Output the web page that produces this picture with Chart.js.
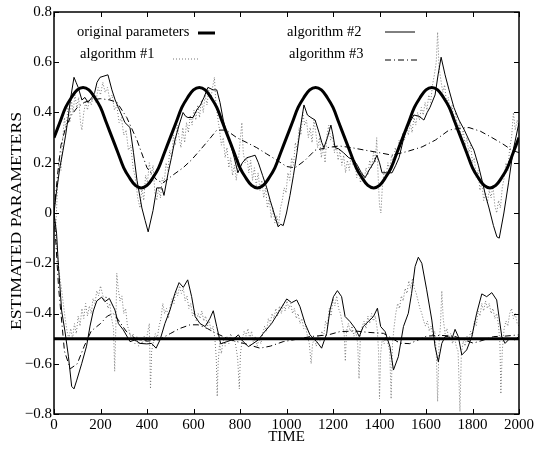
<!DOCTYPE html>
<html>
<head>
<meta charset="utf-8">
<script src="https://cdn.jsdelivr.net/npm/chart.js@4"></script>
<style>
  html, body { margin: 0; padding: 0; background: #fff; }
  canvas { display: block; }
</style>
</head>
<body>
<canvas id="chart" width="534" height="449"></canvas>
<script>
// tick labels
const xTickLabels = ['0', '200', '400', '600', '800', '1000', '1200', '1400', '1600', '1800', '2000'];
const yTickValues = [-0.8, -0.6, -0.4, -0.2, 0, 0.2, 0.4, 0.6, 0.8];
const yTickLabels = ['\u22120.8', '\u22120.6', '\u22120.4', '\u22120.2', '0', '0.2', '0.4', '0.6', '0.8'];
const legendLabels = ['original parameters', 'algorithm #1', 'algorithm #2', 'algorithm #3'];
const yTitle = 'ESTIMATED PARAMETERS';

// original parameters (thick line)
const origTimes = [0, 25, 50, 75, 100, 125, 150, 175, 200, 225, 250, 275, 300, 325, 350, 375, 400, 425, 450, 475,
  500, 525, 550, 575, 600, 625, 650, 675, 700, 725, 750, 775, 800, 825, 850, 875, 900, 925, 950, 975,
  1000, 1025, 1050, 1075, 1100, 1125, 1150, 1175, 1200, 1225, 1250, 1275, 1300, 1325, 1350, 1375, 1400, 1425, 1450, 1475,
  1500, 1525, 1550, 1575, 1600, 1625, 1650, 1675, 1700, 1725, 1750, 1775, 1800, 1825, 1850, 1875, 1900, 1925, 1950, 1975, 2000];
const origUpper = [0.30, 0.36, 0.42, 0.46, 0.49, 0.50, 0.49, 0.46, 0.42, 0.36, 0.30, 0.24, 0.18, 0.14, 0.11, 0.10, 0.11, 0.14, 0.18, 0.24,
  0.30, 0.36, 0.42, 0.46, 0.49, 0.50, 0.49, 0.46, 0.42, 0.36, 0.30, 0.24, 0.18, 0.14, 0.11, 0.10, 0.11, 0.14, 0.18, 0.24,
  0.30, 0.36, 0.42, 0.46, 0.49, 0.50, 0.49, 0.46, 0.42, 0.36, 0.30, 0.24, 0.18, 0.14, 0.11, 0.10, 0.11, 0.14, 0.18, 0.24,
  0.30, 0.36, 0.42, 0.46, 0.49, 0.50, 0.49, 0.46, 0.42, 0.36, 0.30, 0.24, 0.18, 0.14, 0.11, 0.10, 0.11, 0.14, 0.18, 0.24, 0.30];
const origLower = [[0, -0.5], [2000, -0.5]];

// algorithm #1 (dotted)
const alg1Upper = [[0, 0.0], [8, -0.05], [15, 0.1], [22, 0.22], [30, 0.17], [38, 0.3], [45, 0.38], [52, 0.33], [60, 0.42], [68, 0.36],
  [75, 0.45], [82, 0.40], [90, 0.47], [98, 0.42], [106, 0.46], [114, 0.36], [120, 0.33], [128, 0.40], [136, 0.44], [144, 0.41],
  [152, 0.45], [160, 0.43], [170, 0.47], [180, 0.44], [190, 0.50], [200, 0.47], [210, 0.52], [220, 0.48], [230, 0.50], [240, 0.45],
  [250, 0.47], [260, 0.41], [270, 0.43], [280, 0.36], [290, 0.38], [300, 0.31], [310, 0.33], [320, 0.25], [330, 0.27], [340, 0.18],
  [350, 0.14], [360, 0.06], [370, 0.02], [378, 0.10], [386, 0.05], [394, 0.15], [402, 0.12], [410, 0.20], [418, 0.15], [426, 0.19],
  [434, 0.08], [442, 0.05], [450, 0.10], [458, 0.06], [466, 0.14], [474, 0.12], [482, 0.20], [490, 0.17], [498, 0.25], [506, 0.22],
  [514, 0.31], [522, 0.27], [530, 0.35], [538, 0.30], [546, 0.26], [554, 0.34], [562, 0.28], [570, 0.36], [578, 0.32], [586, 0.39],
  [594, 0.35], [602, 0.41], [610, 0.37], [618, 0.43], [626, 0.38], [634, 0.45], [642, 0.40], [650, 0.47], [658, 0.43], [666, 0.49],
  [674, 0.45], [682, 0.50], [690, 0.54], [696, 0.44], [704, 0.38], [712, 0.33], [720, 0.27], [728, 0.30], [736, 0.22], [744, 0.26],
  [752, 0.18], [760, 0.22], [768, 0.15], [776, 0.19], [784, 0.13], [792, 0.20], [800, 0.28], [808, 0.36], [814, 0.24], [822, 0.20],
  [830, 0.22], [838, 0.16], [846, 0.21], [854, 0.13], [862, 0.18], [870, 0.11], [878, 0.16], [886, 0.09], [894, 0.13], [902, 0.06],
  [910, 0.10], [918, 0.02], [926, 0.06], [934, -0.02], [942, 0.02], [950, -0.04], [958, -0.01], [966, -0.05], [974, 0.02], [982, 0.05],
  [990, 0.10], [998, 0.08], [1006, 0.16], [1014, 0.13], [1022, 0.22], [1030, 0.19], [1038, 0.28], [1046, 0.25], [1054, 0.34], [1062, 0.31],
  [1070, 0.40], [1078, 0.35], [1086, 0.37], [1094, 0.30], [1102, 0.34], [1110, 0.28], [1118, 0.37], [1126, 0.32], [1134, 0.26], [1142, 0.30],
  [1150, 0.22], [1158, 0.27], [1166, 0.20], [1174, 0.31], [1182, 0.35], [1190, 0.29], [1198, 0.31], [1206, 0.24], [1214, 0.27], [1222, 0.21],
  [1230, 0.25], [1238, 0.19], [1246, 0.23], [1254, 0.16], [1262, 0.21], [1270, 0.17], [1278, 0.23], [1286, 0.19], [1294, 0.21], [1302, 0.14],
  [1310, 0.18], [1318, 0.12], [1326, 0.16], [1334, 0.13], [1342, 0.18], [1350, 0.15], [1358, 0.21], [1366, 0.18], [1374, 0.24], [1382, 0.20],
  [1388, 0.30], [1394, 0.15], [1400, 0.03], [1406, 0.0], [1412, 0.10], [1420, 0.17], [1428, 0.14], [1436, 0.20], [1444, 0.17], [1452, 0.23],
  [1460, 0.20], [1468, 0.26], [1476, 0.23], [1484, 0.29], [1492, 0.26], [1500, 0.32], [1508, 0.29], [1516, 0.35], [1524, 0.31], [1532, 0.36],
  [1540, 0.32], [1548, 0.38], [1556, 0.35], [1564, 0.40], [1572, 0.37], [1580, 0.42], [1588, 0.39], [1596, 0.44], [1604, 0.41], [1612, 0.47],
  [1620, 0.44], [1628, 0.51], [1636, 0.55], [1644, 0.60], [1650, 0.72], [1656, 0.58], [1664, 0.53], [1672, 0.48], [1680, 0.51], [1688, 0.44],
  [1696, 0.46], [1704, 0.40], [1712, 0.43], [1720, 0.37], [1728, 0.40], [1736, 0.33], [1744, 0.36], [1752, 0.30], [1760, 0.33], [1768, 0.27],
  [1776, 0.30], [1784, 0.24], [1792, 0.27], [1800, 0.20], [1808, 0.22], [1816, 0.14], [1824, 0.17], [1832, 0.09], [1840, 0.12], [1848, 0.05],
  [1856, 0.08], [1864, 0.04], [1872, 0.09], [1880, 0.06], [1888, 0.11], [1896, 0.03], [1904, 0.0], [1912, 0.05], [1920, 0.02], [1928, 0.10],
  [1936, 0.14], [1944, 0.20], [1952, 0.17], [1960, 0.26], [1968, 0.30], [1976, 0.40], [1984, 0.33], [1992, 0.37], [2000, 0.34]];
const alg1Lower = [[0, 0.0], [8, -0.08], [16, -0.18], [24, -0.25], [32, -0.30], [40, -0.36], [48, -0.42], [56, -0.47], [64, -0.50], [72, -0.46],
  [80, -0.50], [88, -0.44], [96, -0.48], [104, -0.41], [112, -0.45], [120, -0.38], [128, -0.42], [136, -0.36], [144, -0.41], [152, -0.37],
  [160, -0.40], [168, -0.34], [176, -0.36], [184, -0.31], [192, -0.33], [200, -0.29], [208, -0.32], [216, -0.35], [224, -0.33], [232, -0.38],
  [240, -0.36], [248, -0.42], [256, -0.46], [261, -0.63], [266, -0.45], [270, -0.24], [276, -0.30], [284, -0.35], [292, -0.33], [300, -0.40],
  [308, -0.38], [316, -0.45], [324, -0.47], [332, -0.50], [340, -0.48], [348, -0.52], [356, -0.49], [364, -0.53], [372, -0.50], [380, -0.52],
  [388, -0.49], [396, -0.51], [404, -0.47], [410, -0.44], [415, -0.70], [420, -0.55], [428, -0.51], [436, -0.48], [444, -0.50], [452, -0.45],
  [460, -0.42], [468, -0.36], [476, -0.40], [484, -0.38], [492, -0.42], [500, -0.37], [508, -0.34], [516, -0.36], [524, -0.31], [532, -0.33],
  [540, -0.29], [548, -0.32], [556, -0.30], [564, -0.35], [572, -0.33], [580, -0.38], [588, -0.36], [596, -0.41], [604, -0.39], [612, -0.43],
  [620, -0.40], [628, -0.42], [636, -0.39], [644, -0.43], [652, -0.41], [660, -0.45], [668, -0.43], [676, -0.47], [684, -0.45], [692, -0.50],
  [698, -0.58], [702, -0.73], [706, -0.60], [712, -0.52], [720, -0.56], [728, -0.50], [736, -0.53], [744, -0.49], [752, -0.52], [760, -0.48],
  [768, -0.51], [776, -0.50], [784, -0.54], [790, -0.58], [797, -0.70], [802, -0.56], [810, -0.50], [818, -0.47], [826, -0.49], [834, -0.46],
  [842, -0.50], [850, -0.47], [858, -0.52], [866, -0.49], [874, -0.53], [882, -0.50], [890, -0.52], [898, -0.48], [906, -0.45], [914, -0.47],
  [922, -0.42], [930, -0.44], [938, -0.40], [946, -0.42], [954, -0.38], [962, -0.41], [970, -0.37], [978, -0.40], [986, -0.36], [994, -0.39],
  [1002, -0.35], [1010, -0.38], [1018, -0.36], [1026, -0.40], [1034, -0.38], [1042, -0.42], [1050, -0.40], [1058, -0.44], [1066, -0.42], [1074, -0.46],
  [1082, -0.45], [1090, -0.49], [1098, -0.52], [1106, -0.60], [1112, -0.52], [1120, -0.50], [1128, -0.53], [1136, -0.49], [1144, -0.51], [1152, -0.47],
  [1160, -0.49], [1168, -0.43], [1176, -0.45], [1184, -0.38], [1192, -0.41], [1200, -0.34], [1208, -0.37], [1216, -0.33], [1224, -0.38], [1232, -0.40],
  [1240, -0.44], [1248, -0.48], [1253, -0.59], [1258, -0.47], [1266, -0.44], [1274, -0.47], [1282, -0.45], [1290, -0.49], [1298, -0.47], [1306, -0.52],
  [1312, -0.66], [1318, -0.48], [1326, -0.45], [1334, -0.43], [1342, -0.46], [1350, -0.41], [1358, -0.44], [1366, -0.40], [1374, -0.43], [1382, -0.41],
  [1390, -0.46], [1396, -0.55], [1400, -0.74], [1405, -0.56], [1412, -0.50], [1420, -0.52], [1428, -0.49], [1436, -0.52], [1444, -0.55], [1450, -0.74],
  [1456, -0.52], [1462, -0.46], [1470, -0.40], [1478, -0.36], [1486, -0.38], [1494, -0.33], [1502, -0.35], [1510, -0.30], [1518, -0.32], [1526, -0.27],
  [1534, -0.30], [1542, -0.26], [1550, -0.30], [1558, -0.32], [1566, -0.35], [1574, -0.38], [1582, -0.40], [1590, -0.43], [1598, -0.45], [1606, -0.43],
  [1614, -0.47], [1622, -0.45], [1630, -0.49], [1638, -0.47], [1644, -0.55], [1650, -0.75], [1656, -0.52], [1662, -0.45], [1668, -0.31], [1674, -0.42],
  [1682, -0.48], [1690, -0.46], [1698, -0.50], [1706, -0.48], [1714, -0.52], [1722, -0.49], [1730, -0.53], [1738, -0.55], [1746, -0.79], [1752, -0.56],
  [1760, -0.51], [1768, -0.53], [1776, -0.49], [1784, -0.51], [1792, -0.47], [1800, -0.49], [1808, -0.43], [1816, -0.45], [1824, -0.39], [1832, -0.41],
  [1840, -0.36], [1848, -0.39], [1856, -0.35], [1864, -0.38], [1872, -0.36], [1880, -0.40], [1888, -0.38], [1896, -0.42], [1904, -0.40], [1912, -0.45],
  [1918, -0.52], [1922, -0.72], [1928, -0.55], [1936, -0.46], [1944, -0.43], [1952, -0.45], [1960, -0.40], [1968, -0.38], [1976, -0.42], [1984, -0.40],
  [1992, -0.44], [2000, -0.45]];

// algorithm #2 (thin solid)
const alg2Upper = [[0, 0.0], [10, 0.08], [25, 0.18], [39, 0.25], [50, 0.31], [61, 0.38], [72, 0.46], [86, 0.54], [95, 0.52], [104, 0.50],
  [120, 0.45], [133, 0.46], [146, 0.44], [163, 0.46], [175, 0.48], [185, 0.52], [198, 0.54], [215, 0.545], [232, 0.55], [249, 0.49],
  [263, 0.45], [277, 0.42], [291, 0.39], [305, 0.36], [327, 0.34], [342, 0.24], [357, 0.13], [378, 0.02], [392, -0.03], [405, -0.075],
  [426, 0.01], [442, 0.10], [464, 0.10], [473, 0.07], [491, 0.16], [505, 0.22], [520, 0.29], [538, 0.35], [555, 0.40], [566, 0.385],
  [576, 0.38], [598, 0.38], [614, 0.41], [630, 0.43], [645, 0.46], [662, 0.50], [684, 0.49], [700, 0.49], [714, 0.44], [728, 0.37],
  [742, 0.32], [757, 0.28], [775, 0.22], [791, 0.16], [810, 0.20], [829, 0.22], [848, 0.225], [865, 0.23], [879, 0.20], [897, 0.15],
  [915, 0.10], [930, 0.05], [943, 0.01], [964, -0.055], [975, -0.045], [986, -0.05], [1000, 0.0], [1015, 0.07], [1030, 0.15], [1045, 0.24],
  [1060, 0.34], [1075, 0.43], [1090, 0.39], [1105, 0.38], [1123, 0.37], [1140, 0.32], [1152, 0.28], [1161, 0.26], [1176, 0.30], [1191, 0.35],
  [1200, 0.31], [1209, 0.26], [1225, 0.255], [1245, 0.24], [1268, 0.22], [1290, 0.21], [1305, 0.19], [1322, 0.16], [1338, 0.14], [1355, 0.17],
  [1375, 0.20], [1389, 0.23], [1400, 0.20], [1411, 0.16], [1430, 0.16], [1454, 0.16], [1470, 0.19], [1484, 0.22], [1497, 0.27], [1510, 0.32],
  [1530, 0.36], [1548, 0.39], [1570, 0.385], [1591, 0.37], [1605, 0.40], [1617, 0.42], [1639, 0.47], [1652, 0.55], [1665, 0.62], [1682, 0.55],
  [1699, 0.49], [1720, 0.42], [1742, 0.37], [1765, 0.33], [1785, 0.29], [1806, 0.25], [1825, 0.19], [1841, 0.13], [1856, 0.07], [1871, 0.02],
  [1890, -0.05], [1905, -0.095], [1915, -0.10], [1935, 0.0], [1955, 0.12], [1975, 0.25], [2000, 0.36]];
const alg2Lower = [[0, 0.0], [11, -0.08], [19, -0.21], [33, -0.39], [47, -0.47], [62, -0.57], [76, -0.69], [86, -0.70], [98, -0.665], [119, -0.60],
  [140, -0.53], [155, -0.45], [169, -0.39], [184, -0.35], [205, -0.335], [219, -0.353], [238, -0.34], [262, -0.386], [277, -0.44], [298, -0.465],
  [327, -0.512], [348, -0.505], [370, -0.519], [399, -0.521], [420, -0.519], [439, -0.538], [456, -0.505], [477, -0.44], [499, -0.386], [520, -0.32],
  [538, -0.277], [556, -0.296], [575, -0.266], [592, -0.333], [607, -0.412], [628, -0.44], [650, -0.452], [671, -0.419], [685, -0.389], [700, -0.452],
  [717, -0.521], [743, -0.512], [771, -0.503], [793, -0.485], [807, -0.505], [836, -0.532], [857, -0.519], [879, -0.505], [900, -0.479], [936, -0.44],
  [972, -0.386], [1001, -0.342], [1022, -0.357], [1044, -0.346], [1058, -0.373], [1080, -0.44], [1101, -0.485], [1130, -0.512], [1151, -0.538], [1173, -0.479],
  [1187, -0.386], [1202, -0.333], [1219, -0.309], [1237, -0.333], [1252, -0.412], [1273, -0.432], [1295, -0.459], [1313, -0.492], [1330, -0.452], [1352, -0.432],
  [1374, -0.412], [1391, -0.379], [1405, -0.452], [1424, -0.472], [1445, -0.532], [1460, -0.625], [1481, -0.572], [1503, -0.452], [1524, -0.399], [1538, -0.32],
  [1553, -0.213], [1567, -0.176], [1582, -0.20], [1603, -0.306], [1625, -0.426], [1639, -0.532], [1653, -0.592], [1668, -0.519], [1682, -0.492], [1696, -0.492],
  [1710, -0.505], [1725, -0.463], [1739, -0.492], [1754, -0.565], [1775, -0.545], [1797, -0.492], [1818, -0.399], [1840, -0.322], [1861, -0.333], [1883, -0.317],
  [1904, -0.346], [1926, -0.492], [1940, -0.519], [1961, -0.499], [1983, -0.505], [2000, -0.49]];

// algorithm #3 (dash-dot)
const alg3Upper = [[0, 0.0], [15, 0.15], [30, 0.27], [50, 0.34], [75, 0.39], [100, 0.42], [130, 0.44], [160, 0.45], [200, 0.455], [240, 0.45],
  [271, 0.44], [313, 0.38], [357, 0.29], [400, 0.18], [443, 0.13], [469, 0.12], [510, 0.15], [555, 0.18], [590, 0.21], [628, 0.25],
  [665, 0.29], [700, 0.33], [740, 0.33], [786, 0.30], [830, 0.28], [872, 0.26], [915, 0.235], [959, 0.21], [1000, 0.185], [1037, 0.18],
  [1080, 0.21], [1123, 0.25], [1175, 0.26], [1226, 0.267], [1280, 0.26], [1338, 0.25], [1400, 0.24], [1454, 0.23], [1520, 0.245], [1583, 0.263],
  [1640, 0.29], [1699, 0.33], [1740, 0.337], [1785, 0.34], [1835, 0.325], [1884, 0.30], [1930, 0.275], [1970, 0.25], [2000, 0.24]];
const alg3Lower = [[0, 0.0], [20, -0.3], [45, -0.55], [70, -0.62], [100, -0.60], [130, -0.53], [160, -0.47], [200, -0.44], [230, -0.41], [255, -0.40],
  [280, -0.43], [310, -0.47], [350, -0.50], [400, -0.51], [450, -0.505], [500, -0.48], [540, -0.46], [585, -0.445], [620, -0.445], [660, -0.46],
  [700, -0.48], [760, -0.505], [820, -0.52], [886, -0.538], [930, -0.53], [986, -0.512], [1060, -0.50], [1101, -0.492], [1180, -0.485], [1230, -0.472],
  [1300, -0.47], [1350, -0.475], [1417, -0.479], [1488, -0.518], [1530, -0.52], [1603, -0.49], [1660, -0.487], [1720, -0.49], [1803, -0.518], [1850, -0.505],
  [1890, -0.492], [1940, -0.49], [2000, -0.485]];

const serif = "'Liberation Serif', 'Times New Roman', serif";
const pts = (pairs) => pairs.map(([x, y]) => ({ x, y }));

const styleOrig = { borderColor: '#000', borderWidth: 3, tension: 0.4 };
const styleAlg1 = { borderColor: '#777', borderWidth: 1, borderDash: [1, 2] };
const styleAlg2 = { borderColor: '#000', borderWidth: 1 };
const styleAlg3 = { borderColor: '#000', borderWidth: 1, borderDash: [6, 3, 1, 3] };

// frame, inward ticks, y title and the in-plot legend
const framePlugin = {
  id: 'frame',
  afterDraw(chart) {
    const { ctx, chartArea: a, scales } = chart;
    ctx.save();
    ctx.strokeStyle = '#000';
    ctx.lineWidth = 1;
    ctx.beginPath();
    scales.x.ticks.forEach(t => {
      const px = Math.round(scales.x.getPixelForValue(t.value)) + 0.5;
      ctx.moveTo(px, a.bottom); ctx.lineTo(px, a.bottom - 5);
      ctx.moveTo(px, a.top); ctx.lineTo(px, a.top + 5);
    });
    scales.y.ticks.forEach(t => {
      const py = Math.round(scales.y.getPixelForValue(t.value)) + 0.5;
      ctx.moveTo(a.left, py); ctx.lineTo(a.left + 5, py);
      ctx.moveTo(a.right, py); ctx.lineTo(a.right - 5, py);
    });
    ctx.stroke();
    ctx.lineWidth = 1.5;
    ctx.strokeRect(a.left, a.top, a.right - a.left, a.bottom - a.top);

    // y axis title, a little stretched along its length like the original
    ctx.save();
    ctx.translate(17, 221);
    ctx.rotate(-Math.PI / 2);
    ctx.scale(1.18, 1);
    ctx.font = '15px ' + serif;
    ctx.fillStyle = '#000';
    ctx.textAlign = 'center';
    ctx.textBaseline = 'middle';
    ctx.fillText(yTitle, 0, 0);
    ctx.restore();

    // legend
    ctx.font = '14.5px ' + serif;
    ctx.fillStyle = '#000';
    ctx.textBaseline = 'middle';
    const entries = [
      { text: legendLabels[0], tx: 77, ty: 32, x1: 198, x2: 215, ly: 33, st: styleOrig },
      { text: legendLabels[1], tx: 80, ty: 54, x1: 173, x2: 200, ly: 59, st: styleAlg1 },
      { text: legendLabels[2], tx: 287, ty: 32, x1: 385, x2: 415, ly: 32, st: styleAlg2 },
      { text: legendLabels[3], tx: 289, ty: 54, x1: 385, x2: 417, ly: 60, st: styleAlg3 }
    ];
    entries.forEach(e => {
      ctx.fillText(e.text, e.tx, e.ty);
      ctx.beginPath();
      ctx.setLineDash(e.st.borderDash || []);
      ctx.lineWidth = e.st.borderWidth;
      ctx.strokeStyle = e.st.borderColor;
      ctx.moveTo(e.x1, e.ly); ctx.lineTo(e.x2, e.ly);
      ctx.stroke();
    });
    ctx.restore();
  }
};

new Chart(document.getElementById('chart'), {
  type: 'line',
  data: {
    datasets: [
      { label: 'original parameters', data: origTimes.map((t, i) => ({ x: t, y: origUpper[i] })), ...styleOrig },
      { label: 'original parameters', data: pts(origLower), ...styleOrig },
      { label: 'algorithm #2', data: pts(alg2Upper), ...styleAlg2 },
      { label: 'algorithm #2', data: pts(alg2Lower), ...styleAlg2 },
      { label: 'algorithm #3', data: pts(alg3Upper), ...styleAlg3 },
      { label: 'algorithm #3', data: pts(alg3Lower), ...styleAlg3 },
      { label: 'algorithm #1', data: pts(alg1Upper), ...styleAlg1 },
      { label: 'algorithm #1', data: pts(alg1Lower), ...styleAlg1 }
    ]
  },
  options: {
    responsive: false,
    animation: false,
    devicePixelRatio: 1,
    layout: { padding: { top: 12, right: 15, left: 0, bottom: 0 } },
    elements: { point: { radius: 0 }, line: { fill: false } },
    plugins: { legend: { display: false }, tooltip: { enabled: false } },
    scales: {
      x: {
        type: 'linear',
        min: 0,
        max: 2000,
        grid: { display: false, drawTicks: false },
        border: { display: false },
        ticks: {
          stepSize: 200,
          color: '#000',
          padding: 2,
          maxRotation: 0,
          font: { family: serif, size: 15 },
          callback: (v) => xTickLabels[Math.round(v / 200)]
        },
        title: { display: true, text: 'TIME', color: '#000', font: { family: serif, size: 15 }, padding: { top: 0, bottom: 3 } },
        afterFit(scale) { scale.height = 35; scale.paddingRight = 0; scale.paddingLeft = 0; }
      },
      y: {
        min: -0.8,
        max: 0.8,
        grid: { display: false, drawTicks: false },
        border: { display: false },
        ticks: {
          stepSize: 0.2,
          color: '#000',
          padding: 2,
          font: { family: serif, size: 15 },
          callback: (v) => yTickLabels[yTickValues.indexOf(Math.round(v * 10) / 10)]
        },
        afterFit(scale) { scale.width = 54; }
      }
    }
  },
  plugins: [framePlugin]
});
</script>
</body>
</html>
